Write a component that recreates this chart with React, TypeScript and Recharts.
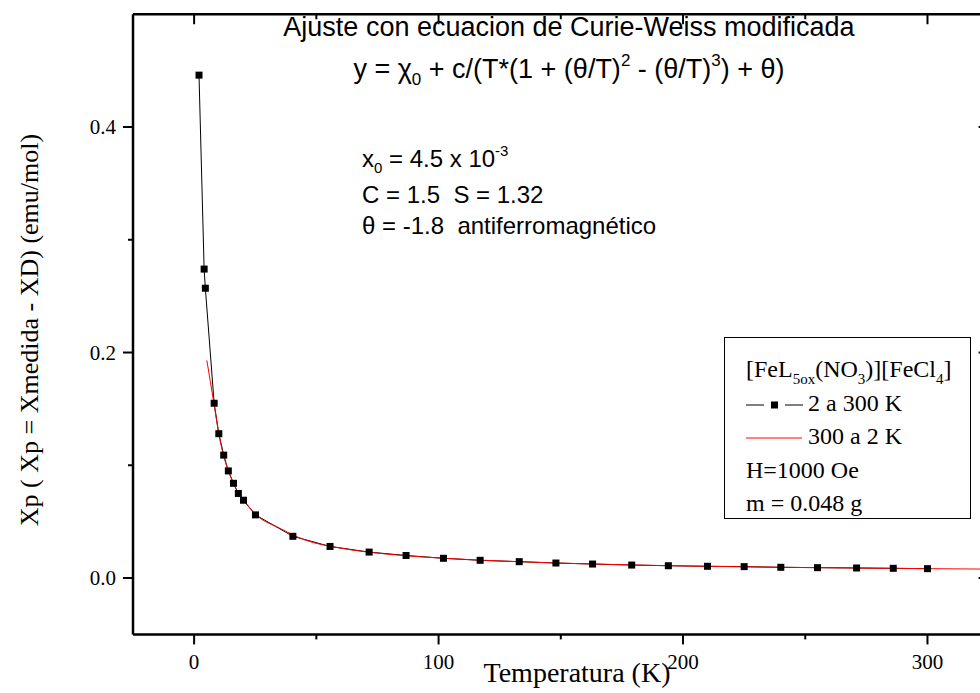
import React from 'react';
import { LineChart, Line, XAxis, YAxis, Legend } from 'recharts';

// measured points, 2 a 300 K
const measuredT = [2.0, 4.1, 4.6, 8.2, 10.1, 12.1, 14.0, 16.1, 18.1, 20.2, 25.1, 40.4, 55.6, 71.6, 86.7, 102, 117, 133, 148, 163, 179, 194, 210, 225, 240, 255, 271, 286, 300];
const measuredChi = [0.446, 0.274, 0.257, 0.155, 0.128, 0.109, 0.095, 0.084, 0.075, 0.069, 0.056, 0.037, 0.028, 0.023, 0.020, 0.0175, 0.0157, 0.0145, 0.0133, 0.0124, 0.0115, 0.0109, 0.0104, 0.0101, 0.0095, 0.0092, 0.0089, 0.0086, 0.0083];

// red curve, 300 a 2 K
const curveT = [5.2, 8.1, 10.1, 12.0, 14.0, 16.1, 18.1, 20.2, 25.4, 35.2, 45, 60, 80, 100, 130, 160, 200, 250, 300, 325];
const curveChi = [0.193, 0.155, 0.128, 0.109, 0.095, 0.084, 0.075, 0.069, 0.056, 0.044, 0.034, 0.0265, 0.021, 0.0178, 0.0147, 0.0126, 0.0107, 0.0093, 0.0083, 0.0079];

const xTicks = [0, 50, 100, 150, 200, 250, 300];
const yTicks = [0, 0.1, 0.2, 0.3, 0.4];
const yTickLabels = ['0.0', '', '0.2', '', '0.4'];

const measured = measuredT.map((T, i) => ({ T, chi: measuredChi[i] }));
const curve = curveT.map((T, i) => ({ T, chi: curveChi[i] }));

const serif = '"Liberation Serif", "Times New Roman", serif';
const sans = '"Liberation Sans", Arial, sans-serif';

const isMajorX = (v: number) => v % 100 === 0;

const BottomTick = (props: any) => {
  const { x, y, payload } = props;
  const major = isMajorX(payload.value);
  return (
    <g>
      <line x1={x} x2={x} y1={y} y2={y + (major ? 10 : 5)} stroke="#000" strokeWidth={2} />
      {major && (
        <text x={x} y={y + 35} textAnchor="middle" fontFamily={serif} fontSize={21} fill="#000">
          {payload.value}
        </text>
      )}
    </g>
  );
};

// mirrored axes: ticks point into the plot
const TopTick = (props: any) => {
  const { x, y, payload } = props;
  const major = isMajorX(payload.value);
  return <line x1={x} x2={x} y1={y} y2={y + (major ? 10 : 5)} stroke="#000" strokeWidth={2} />;
};

const LeftTick = (props: any) => {
  const { x, y, index } = props;
  const label = yTickLabels[index];
  const major = label !== '';
  return (
    <g>
      <line x1={x} x2={x - (major ? 10 : 5)} y1={y} y2={y} stroke="#000" strokeWidth={2} />
      {major && (
        <text x={x - 17} y={y + 7} textAnchor="end" fontFamily={serif} fontSize={21} fill="#000">
          {label}
        </text>
      )}
    </g>
  );
};

const RightTick = (props: any) => {
  const { x, y, index } = props;
  const major = yTickLabels[index] !== '';
  return <line x1={x} x2={x - (major ? 10 : 5)} y1={y} y2={y} stroke="#000" strokeWidth={2} />;
};

const SquareDot = (props: any) => {
  const { cx, cy, index } = props;
  if (cx == null || cy == null) return null;
  return <rect key={index} x={cx - 3.5} y={cy - 3.5} width={7} height={7} fill="#000" />;
};

const sub = { fontSize: 15, position: 'relative' as const, top: 7, lineHeight: 0 };

const LegendBox = (props: any) => {
  const { payload = [] } = props;
  return (
    <div
      style={{
        width: '100%',
        height: '100%',
        boxSizing: 'border-box',
        border: '1px solid #000',
        background: '#fff',
        padding: '15px 0 0 21px',
        fontFamily: serif,
        fontSize: 24,
        lineHeight: '33.5px',
        color: '#000',
        textAlign: 'left',
      }}
    >
      <div>
        [FeL<span style={sub}>5ox</span>(NO<span style={sub}>3</span>)][FeCl<span style={sub}>4</span>]
      </div>
      {payload.map((item: any, i: number) => (
        <div key={i}>
          <svg width={57} height={12} style={{ verticalAlign: 'baseline', marginRight: 5 }}>
            {i === 0 ? (
              <g>
                <line x1={0} x2={18} y1={6} y2={6} stroke={item.color} strokeWidth={1} />
                <rect x={25} y={2.5} width={7} height={7} fill={item.color} />
                <line x1={39} x2={57} y1={6} y2={6} stroke={item.color} strokeWidth={1} />
              </g>
            ) : (
              <line x1={0} x2={56} y1={6} y2={6} stroke={item.color} strokeWidth={1} />
            )}
          </svg>
          {item.value}
        </div>
      ))}
      <div>H=1000 Oe</div>
      <div>m = 0.048 g</div>
    </div>
  );
};

export default function App() {
  return (
    <div style={{ position: 'absolute', left: 0, top: 0, width: 980, height: 693, overflow: 'hidden', background: '#fff' }}>
      <LineChart width={1040} height={693} margin={{ top: 14.25, right: 51.4, bottom: 18.6, left: 73 }}>
        <XAxis
          xAxisId="top"
          dataKey="T"
          orientation="top"
          mirror
          height={1}
          type="number"
          domain={[-25, 325]}
          ticks={xTicks}
          interval={0}
          tickSize={0}
          tickMargin={0}
          tick={<TopTick />}
          tickLine={false}
          axisLine={{ stroke: '#000', strokeWidth: 2.5 }}
          allowDataOverflow
        />
        <XAxis
          dataKey="T"
          type="number"
          domain={[-25, 325]}
          ticks={xTicks}
          interval={0}
          height={40}
          tickSize={0}
          tickMargin={0}
          tick={<BottomTick />}
          tickLine={false}
          axisLine={{ stroke: '#000', strokeWidth: 2.5 }}
          allowDataOverflow
        />
        <YAxis
          type="number"
          domain={[-0.05, 0.5]}
          ticks={yTicks}
          interval={0}
          width={60}
          tickSize={0}
          tickMargin={0}
          tick={<LeftTick />}
          tickLine={false}
          axisLine={{ stroke: '#000', strokeWidth: 2.5 }}
          allowDataOverflow
        />
        <YAxis
          yAxisId="right"
          orientation="right"
          mirror
          width={1}
          type="number"
          domain={[-0.05, 0.5]}
          ticks={yTicks}
          interval={0}
          tickSize={0}
          tickMargin={0}
          tick={<RightTick />}
          tickLine={false}
          axisLine={{ stroke: '#000', strokeWidth: 2.5 }}
          allowDataOverflow
        />
        <Legend
          layout="horizontal"
          verticalAlign="middle"
          align="center"
          content={<LegendBox />}
          wrapperStyle={{ left: 724, top: 337, width: 247, height: 182 }}
        />
        <Line
          data={measured}
          dataKey="chi"
          name="2 a 300 K"
          yAxisId="right"
          type="linear"
          stroke="#000"
          strokeWidth={1}
          dot={<SquareDot />}
          activeDot={false}
          isAnimationActive={false}
        />
        <Line
          data={curve}
          dataKey="chi"
          name="300 a 2 K"
          xAxisId="top"
          type="monotone"
          stroke="#ff0000"
          strokeWidth={1}
          dot={false}
          activeDot={false}
          isAnimationActive={false}
        />
        <text x={569} y={36} textAnchor="middle" fontFamily={sans} fontSize={27} fill="#000">
          Ajuste con ecuacion de Curie-Weiss modificada
        </text>
        <text x={569} y={78} textAnchor="middle" fontFamily={sans} fontSize={27} fill="#000">
          y = χ<tspan fontSize={17} dy={7}>0</tspan>
          <tspan dy={-7}> + c/(T*(1 + (θ/T)</tspan>
          <tspan fontSize={17} dy={-12}>2</tspan>
          <tspan dy={12}> - (θ/T)</tspan>
          <tspan fontSize={17} dy={-12}>3</tspan>
          <tspan dy={12}>) + θ)</tspan>
        </text>
        <text x={362} y={167} fontFamily={sans} fontSize={24} fill="#000">
          x<tspan fontSize={15} dy={6}>0</tspan>
          <tspan dy={-6}> = 4.5 x 10</tspan>
          <tspan fontSize={15} dy={-11}>-3</tspan>
        </text>
        <text x={362} y={203} fontFamily={sans} fontSize={24} fill="#000" style={{ whiteSpace: 'pre' }}>
          {'C = 1.5  S = 1.32'}
        </text>
        <text x={362} y={234} fontFamily={sans} fontSize={24} fill="#000" style={{ whiteSpace: 'pre' }}>
          {'θ = -1.8  antiferromagnético'}
        </text>
        <text x={577} y={682} textAnchor="middle" fontFamily={serif} fontSize={28} fill="#000">
          Temperatura (K)
        </text>
        <text
          x={38}
          y={330}
          textAnchor="middle"
          fontFamily={serif}
          fontSize={26}
          fill="#000"
          transform="rotate(-90 38 330)"
        >
          Xp ( Xp = Xmedida - XD) (emu/mol)
        </text>
      </LineChart>
    </div>
  );
}
